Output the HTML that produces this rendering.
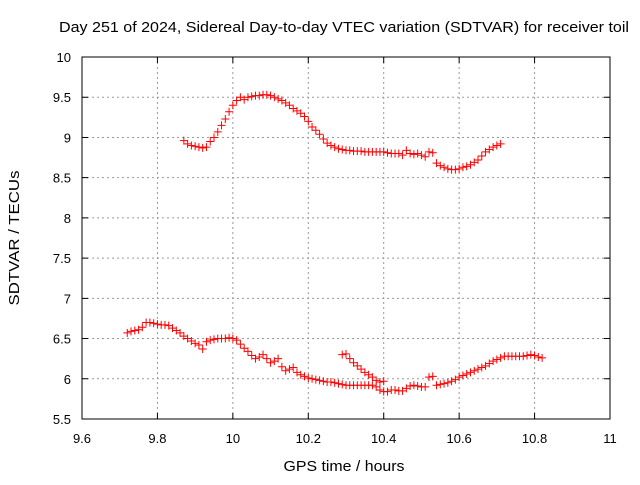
<!DOCTYPE html>
<html><head><meta charset="utf-8"><style>
body{margin:0;background:#fff}
svg{font-family:"Liberation Sans",sans-serif;font-size:13px}
</style></head><body>
<svg id="c" width="640" height="480" xmlns="http://www.w3.org/2000/svg">
<rect width="640" height="480" fill="#fff"/>
<text x="344" y="32" text-anchor="middle" font-size="15" textLength="570" lengthAdjust="spacingAndGlyphs">Day 251 of 2024, Sidereal Day-to-day VTEC variation (SDTVAR) for receiver toil</text>
<text x="344" y="471" text-anchor="middle" font-size="15" textLength="121" lengthAdjust="spacingAndGlyphs">GPS time / hours</text>
<text transform="translate(19,238) rotate(-90)" text-anchor="middle" font-size="15" textLength="135" lengthAdjust="spacingAndGlyphs">SDTVAR / TECUs</text>
<g id="grid"></g><g id="marks"></g>
<rect x="82" y="57" width="528" height="362" fill="none" stroke="#000" stroke-width="1"/>
</svg>
<script>
const xTicks=[9.6,9.8,10,10.2,10.4,10.6,10.8,11];
const xTickLabels=["9.6","9.8","10","10.2","10.4","10.6","10.8","11"];
const yTicks=[5.5,6,6.5,7,7.5,8,8.5,9,9.5,10];
const yTickLabels=["5.5","6","6.5","7","7.5","8","8.5","9","9.5","10"];
const topX0=9.87;
const topValues=[8.96,8.92,8.9,8.89,8.88,8.87,8.88,8.95,9.0,9.07,9.15,9.23,9.32,9.4,9.46,9.5,9.47,9.5,9.51,9.52,9.52,9.53,9.53,9.52,9.5,9.48,9.46,9.43,9.4,9.36,9.33,9.3,9.26,9.2,9.13,9.09,9.04,8.98,8.93,8.9,8.88,8.86,8.85,8.84,8.84,8.83,8.83,8.83,8.82,8.82,8.82,8.82,8.82,8.82,8.81,8.8,8.8,8.8,8.78,8.84,8.8,8.79,8.8,8.78,8.76,8.82,8.81,8.68,8.65,8.63,8.61,8.6,8.6,8.61,8.63,8.64,8.66,8.69,8.72,8.77,8.82,8.85,8.88,8.9,8.92];
const lowX0=9.72;
const lowValues=[6.57,6.59,6.6,6.61,6.64,6.7,6.7,6.69,6.68,6.67,6.67,6.66,6.63,6.6,6.57,6.53,6.5,6.47,6.44,6.42,6.37,6.46,6.48,6.49,6.5,6.5,6.5,6.51,6.5,6.48,6.43,6.38,6.34,6.29,6.25,6.27,6.3,6.25,6.2,6.22,6.25,6.15,6.1,6.12,6.14,6.08,6.05,6.03,6.01,6.0,5.99,5.98,5.97,5.96,5.96,5.95,5.94,5.93,5.92,5.92,5.92,5.92,5.92,5.92,5.92,5.92,5.9,5.86,5.84,5.84,5.86,5.86,5.85,5.85,5.88,5.91,5.92,5.91,5.9,5.9,6.02,6.03,5.92,5.93,5.94,5.95,5.97,5.99,6.02,6.04,6.06,6.08,6.1,6.12,6.14,6.16,6.19,6.22,6.24,6.26,6.28,6.28,6.28,6.28,6.28,6.28,6.29,6.3,6.29,6.27,6.26];
const segX0=10.29;
const segValues=[6.3,6.31,6.25,6.2,6.16,6.12,6.08,6.05,6.02,5.98,5.96,5.97];
const step=0.01;
const NS="http://www.w3.org/2000/svg";
const X=v=>82+(v-9.6)/1.4*528, Y=v=>419-(v-5.5)/4.5*362;
const grid=document.getElementById('grid'), marks=document.getElementById('marks');
function mk(tag,at,parent){const e=document.createElementNS(NS,tag);for(const k in at)e.setAttribute(k,at[k]);parent.appendChild(e);return e;}
xTicks.forEach((t,i)=>{const x=X(t);
 if(i>0&&i<xTicks.length-1){const g=mk('line',{x1:x,x2:x,y1:57,y2:419,stroke:'#999','stroke-dasharray':'2,3'},grid);
 
 }
 const tk=mk('path',{d:`M${x} 419v-6M${x} 57v6`,stroke:'#000'},grid);
 
 
 const l=mk('text',{x:x,y:443,'text-anchor':'middle'},grid);l.textContent=xTickLabels[i];
 
 });
yTicks.forEach((t,i)=>{const y=Y(t);
 if(i>0&&i<yTicks.length-1){const g=mk('line',{x1:82,x2:610,y1:y,y2:y,stroke:'#999','stroke-dasharray':'2,3'},grid);
 
 }
 const tk=mk('path',{d:`M82 ${y}h6M610 ${y}h-6`,stroke:'#000'},grid);
 
 
 const l=mk('text',{x:71,y:y+5,'text-anchor':'end'},grid);l.textContent=yTickLabels[i];
 
 });
function series(x0,vals,name){vals.forEach((v,i)=>{const x=X(x0+i*step),y=Y(v);
 const p=mk('path',{d:`M${x-4} ${y}h8M${x} ${y-4}v8`,stroke:'#f00','stroke-width':1},marks);
 
 });}
series(topX0,topValues,'top-series-point');
series(lowX0,lowValues,'lower-series-point');
series(segX0,segValues,'short-segment-point');
</script>
</body></html>
